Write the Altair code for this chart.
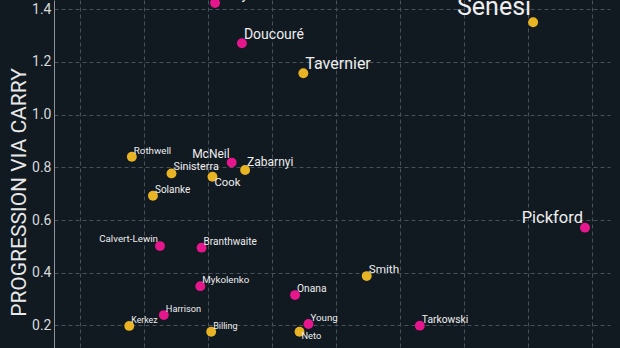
import altair as alt
import pandas as pd

# ---- data ----
players = ["Senesi", "Tavernier", "Rothwell", "Sinisterra", "Zabarnyi", "Cook",
           "Solanke", "Smith", "Kerkez", "Billing", "Neto",
           "Gueye", "Doucouré", "McNeil", "Pickford", "Calvert-Lewin", "Branthwaite",
           "Mykolenko", "Onana", "Harrison", "Young", "Tarkowski"]
teams = ["Bournemouth"] * 11 + ["Everton"] * 11
prog_pass = [9.08, 5.49, 2.81, 3.43, 4.58, 4.07, 3.14, 6.48, 2.77, 4.05, 5.43,
             4.11, 4.53, 4.37, 9.89, 3.25, 3.90, 3.88, 5.36, 3.31, 5.57, 7.31]
prog_carry = [1.351, 1.157, 0.840, 0.777, 0.790, 0.764, 0.692, 0.387, 0.198, 0.176, 0.176,
              1.424, 1.271, 0.818, 0.571, 0.501, 0.495, 0.349, 0.315, 0.239, 0.205, 0.199]
impact = [100, 64, 39, 43, 48, 45, 40, 47, 35, 36, 37,
          56, 56, 48, 66, 39, 40, 39, 41, 37, 39, 41]
label_side = ["ul", "ur", "ur", "ur", "ur", "lr", "ur", "ur", "ur", "ur", "lr",
              "ur", "ur", "ul", "ul", "ul", "ur", "ur", "ur", "ur", "ur", "ur"]

team_names = ["Bournemouth", "Everton"]
team_colors = ["#e8b424", "#e6168d"]
x_ticks = [2, 3, 4, 5, 6, 7, 8, 9, 10]
y_ticks = [0.2, 0.4, 0.6, 0.8, 1.0, 1.2, 1.4]

df = pd.DataFrame({
    "player": players, "team": teams, "pass": prog_pass, "carry": prog_carry,
    "impact": impact, "side": label_side,
})

BG = "#111921"
FONT = "Roboto"

x_enc = alt.X("pass:Q",
              scale=alt.Scale(domain=[1.594, 10.281], nice=False, zero=False),
              axis=alt.Axis(values=x_ticks, labels=False, ticks=False, domain=False,
                            title=None, grid=True))
y_enc = alt.Y("carry:Q",
              scale=alt.Scale(domain=[0.1141, 1.4353], nice=False, zero=False),
              axis=alt.Axis(values=y_ticks, format=".1f", title="PROGRESSION VIA CARRY",
                            ticks=False, labelPadding=3, labelFontSize=14,
                            labelColor="#d6d9dc", labelFont=FONT,
                            domain=True, domainColor="#8d949a", domainWidth=1,
                            titleFont=FONT, titleFontSize=21, titleFontWeight="normal",
                            titleColor="#e8e8e8", titleBaseline="bottom",
                            titleX=-24.6, titleY=192, grid=True))

base = alt.Chart(df)

points = base.mark_circle(size=98, opacity=1).encode(
    x=x_enc, y=y_enc,
    color=alt.Color("team:N", scale=alt.Scale(domain=team_names, range=team_colors),
                    legend=None),
)

size_enc = alt.Size("impact:Q", scale=alt.Scale(domain=[0, 100], range=[0, 25]),
                    legend=None)


def labels(side, align, baseline, dx, dy):
    return base.transform_filter(alt.datum.side == side).mark_text(
        align=align, baseline=baseline, dx=dx, dy=dy, font=FONT, color="#eeeeee"
    ).encode(x=x_enc, y=y_enc, text="player:N", size=size_enc)


chart = alt.layer(
    points,
    labels("ur", "left", "bottom", 2, -1),
    labels("ul", "right", "bottom", -2, -2),
    labels("lr", "left", "top", 2, 0),
).properties(
    width=556, height=348,
    padding={"left": 54, "top": 0, "right": 10, "bottom": 0},
    autosize=alt.AutoSizeParams(type="none"),
    background=BG,
).configure_view(stroke=None).configure_axis(
    gridColor="#48515a", gridDash=[4, 3], gridWidth=1,
)

chart.save("out.html", embed_options={"renderer": "svg", "actions": False})
